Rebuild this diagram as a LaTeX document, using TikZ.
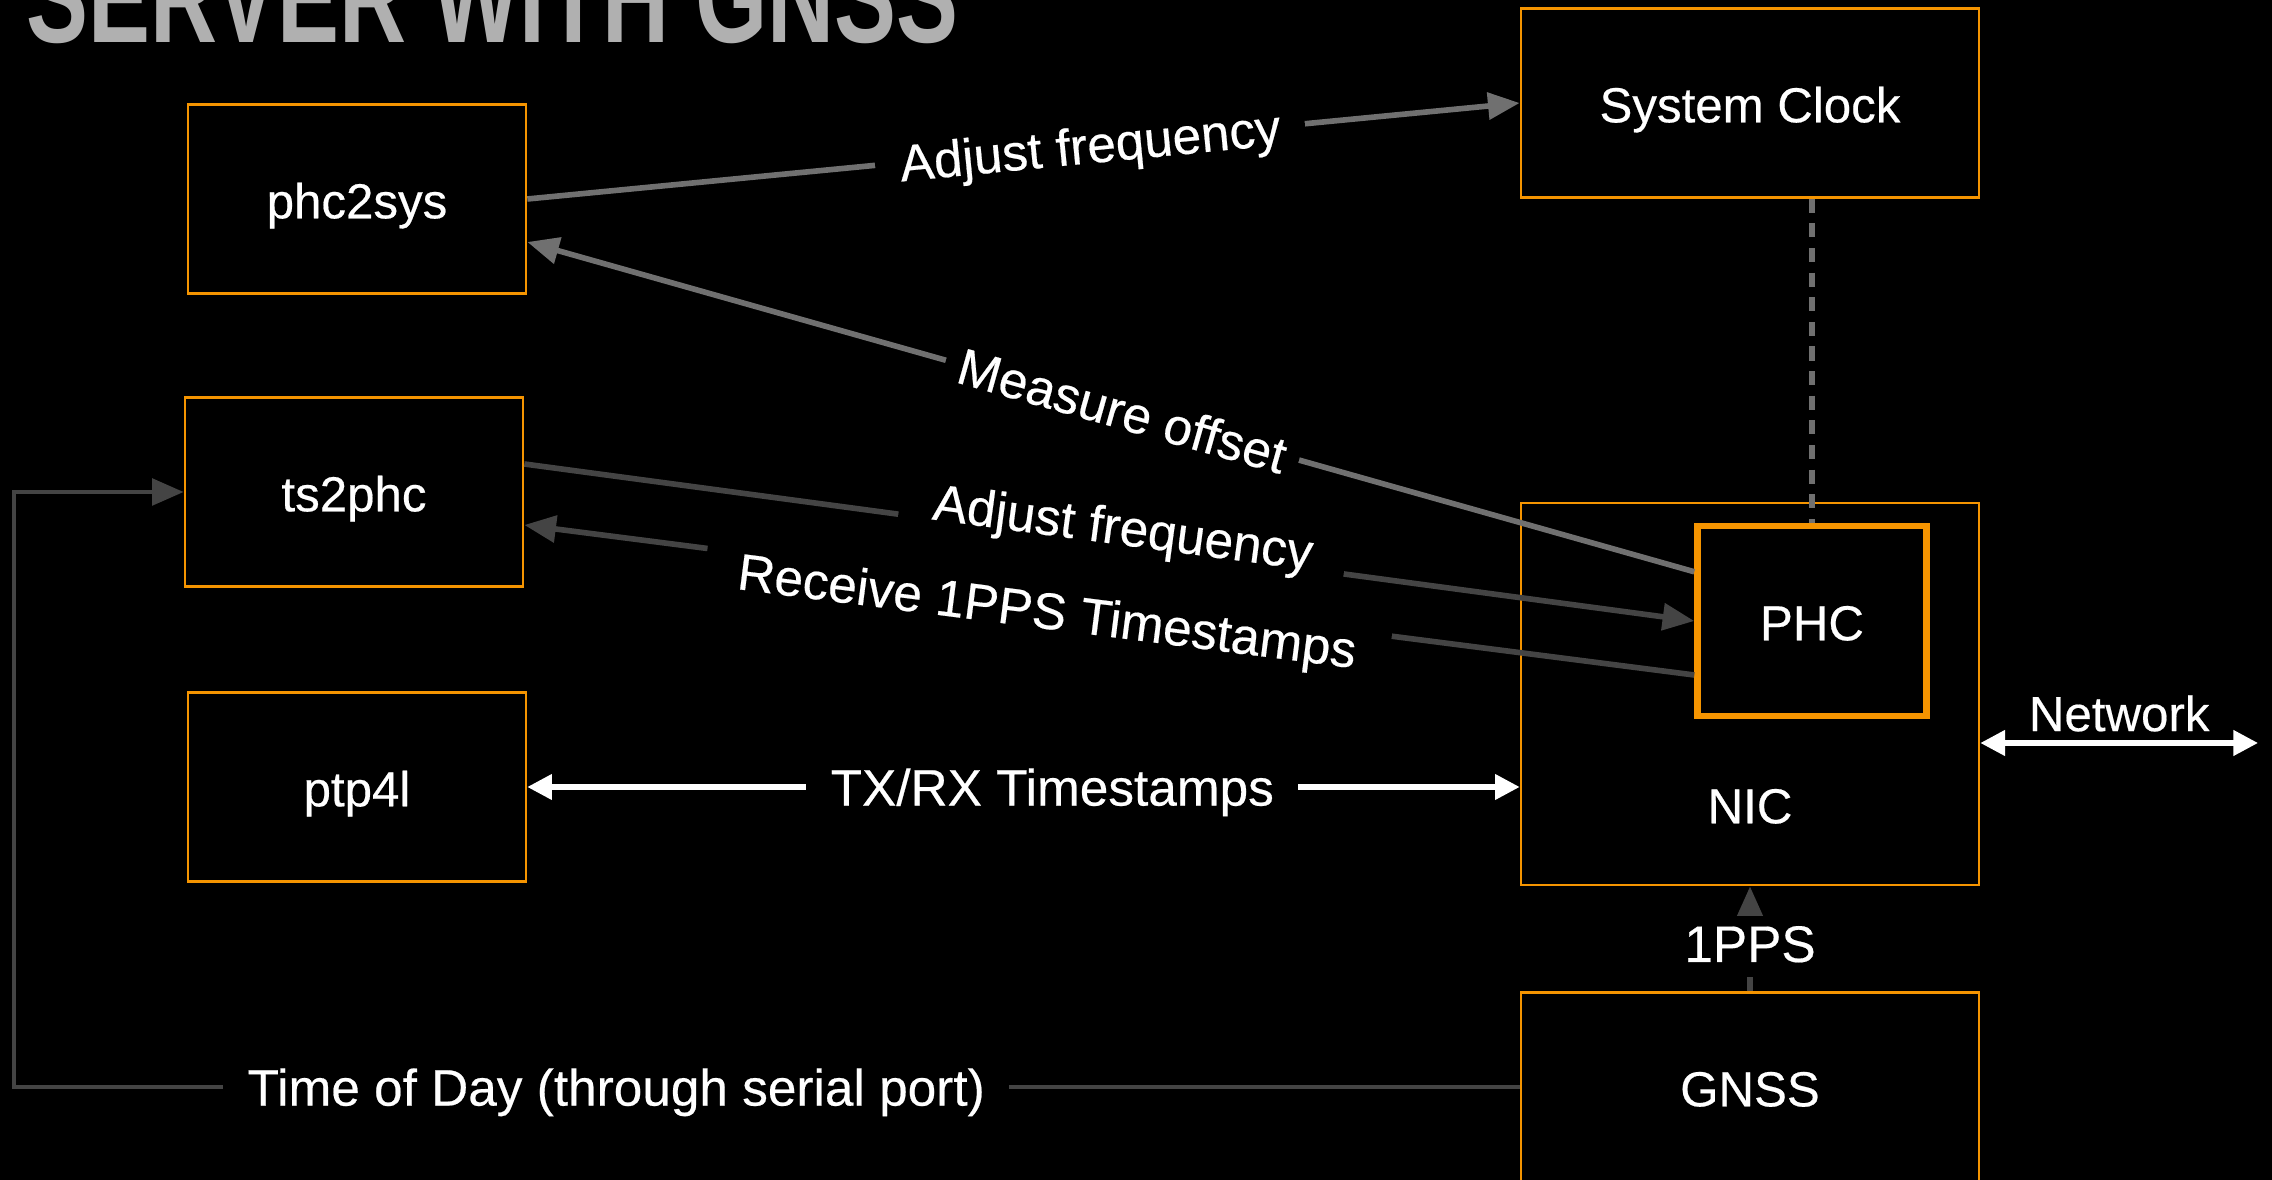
\documentclass[tikz,border=0pt]{standalone}
\usepackage{fontspec}
\usepackage{graphicx}
\setmainfont{Liberation Sans}
\newfontfamily\heavysans{Liberation Sans}[FakeBold=0.4]
\usetikzlibrary{arrows.meta,calc,positioning}

\definecolor{boxorange}{RGB}{245,148,0}
\definecolor{lightline}{RGB}{112,112,112}
\definecolor{darkline}{RGB}{68,68,68}
\definecolor{titlegray}{RGB}{176,176,176}

\newcommand\titlefont{\fontsize{37.7}{40}\selectfont\bfseries}
\newcommand\nodefont{\heavysans\fontsize{14}{16}\selectfont}
\newcommand\edgefont{\heavysans\fontsize{14.6}{17}\selectfont}

\begin{document}
\begin{tikzpicture}[x=0.01cm, y=-0.01cm,
    block/.style={draw=boxorange, line width=0.7pt, text=white, font=\nodefont, text height=11pt, text depth=0pt, minimum width=3.38cm, minimum height=1.89cm},
    wide/.style={block, minimum width=4.58cm},
    flow/.style={line width=1.6pt, -{Triangle[length=9pt,width=7.5pt]}},
    both/.style={line width=1.5pt, {Triangle[length=7pt,width=7pt]}-{Triangle[length=7pt,width=7pt]}},
    tag/.style={fill=black, text=white, font=\edgefont, text depth=0pt, inner xsep=7pt, inner ysep=1pt}]
    \fill[black] (0,0) rectangle (2272,1180);
    \useasboundingbox (0,0) rectangle (2272,1180);

    \node[anchor=base west, text=titlegray, font=\titlefont, inner sep=0pt] (title) at (26,43) {\scalebox{0.7}[1]{SERVER WITH GNSS}};

    % daemons
    \node[block] (phc2sys) at (357,199) {phc2sys};
    \node[block] (ts2phc) at (354,492) {ts2phc};
    \node[block] (ptp4l) at (357,787) {ptp4l};

    % hardware
    \node[wide] (sysclk) at (1750,103) {System Clock};
    \node[wide, minimum height=3.82cm] (nic) at (1750,694) {};
    \node[text=white, font=\nodefont, text height=11pt, text depth=0pt] (niclabel) at (1750,804) {NIC};
    \node[block, line width=1.8pt, minimum width=2.29cm, minimum height=1.9cm] (phc) at (1812,621) {PHC};
    \node[wide] (gnss) at (1750,1087) {GNSS};

    % phc2sys
    \draw[flow, lightline] (phc2sys.east) -- node[tag, sloped, pos=0.567] (lbl-adj1) {Adjust frequency} (sysclk.west);
    \draw[flow, lightline] ($(phc.north west)+(0,49)$) -- node[tag, sloped, pos=0.49, inner xsep=4pt] (lbl-offs) {Measure offset} ($(phc2sys.east)+(0,43)$);
    \draw[lightline, line width=1.5pt, dash pattern=on 4pt off 3pt] (phc.north |- sysclk.south) -- (phc.north);

    % ts2phc
    \draw[flow, darkline] ($(ts2phc.east)+(0,-28)$) -- node[tag, sloped, pos=0.51, above=-2pt, inner xsep=9.5pt] (lbl-adj2) {Adjust frequency} (phc.west);
    \draw[flow, darkline] ($(phc.west)+(0,54)$) -- node[tag, sloped, pos=0.551, below=-2pt, inner xsep=9.5pt] (lbl-recv) {Receive 1PPS Timestamps} ($(ts2phc.east)+(0,33)$);

    % ptp4l and network
    \draw[both, white] (ptp4l.east) -- node[tag, pos=0.529] (lbl-txrx) {TX/RX Timestamps} (ptp4l.east -| nic.west);
    \coordinate (netend) at (2258,743);
    \draw[both, white] (nic.east |- netend) -- node[above, text=white, font=\nodefont, inner sep=2.5pt] (lbl-net) {Network} (netend);

    % GNSS
    \draw[flow, darkline, dash pattern=on 4pt off 3pt] (gnss.north) -- node[tag, pos=0.45, inner xsep=2pt, inner ysep=3pt] (lbl-pps) {1PPS} (nic.south);
    \coordinate (todleft) at (14,1087);
    \draw[flow, darkline, line width=1.3pt] (gnss.west) -- node[tag, pos=0.6] (lbl-tod) {Time of Day (through serial port)} (todleft) |- (ts2phc.west);
\end{tikzpicture}
\end{document}
